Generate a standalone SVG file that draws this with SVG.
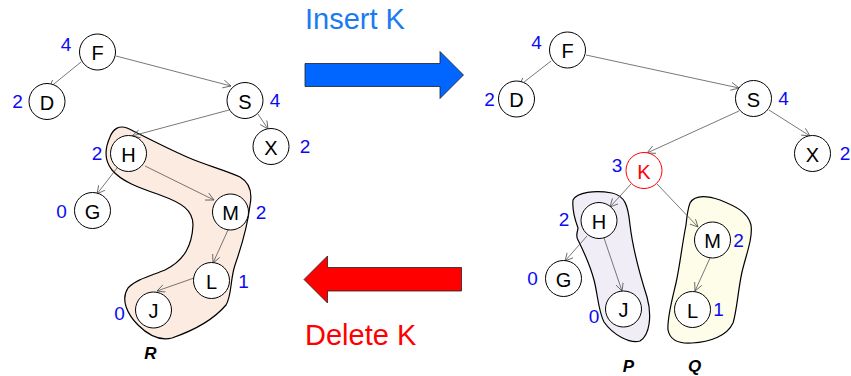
<svg xmlns="http://www.w3.org/2000/svg" width="851" height="376" viewBox="0 0 851 376">
<style>
.n circle{fill:#fff;stroke:#000;stroke-width:1}
.n text{font-family:"Liberation Sans",Arial,sans-serif;font-size:20px;fill:#000;text-anchor:middle;dominant-baseline:central}
.k circle{stroke:#f00}
.k text{fill:#f00}
.num{font-family:"Liberation Sans",Arial,sans-serif;font-size:19px;fill:#0a0af5;text-anchor:middle;dominant-baseline:central}
.e line{stroke:#555;stroke-width:0.8;marker-end:url(#ah)}
.blob{stroke:#000;stroke-width:1.2}
.lbl{font-family:"Liberation Sans",Arial,sans-serif;font-size:17px;font-weight:bold;font-style:italic;text-anchor:middle}
.big{font-family:"Liberation Sans",Arial,sans-serif;font-size:29px}
</style>
<defs>
<marker id="ah" markerUnits="userSpaceOnUse" markerWidth="10" markerHeight="10" refX="8" refY="4" orient="auto">
<path d="M0,0 L8,4 L0,8" fill="none" stroke="#555" stroke-width="0.8"/>
</marker>
</defs>
<rect width="851" height="376" fill="#fff"/>

<g id="blobs">
<path id="blob-R" class="blob" fill="#fbebe0" d="M110,137 C113,129 119,125 127,128 C140,134 160,145 187,157 C205,165 225,170 240,177 C252,184 252,195 250,205 C248,222 242,245 235,265 C230,280 232,295 226,305 C215,318 195,330 172,338 C160,341 148,335 138,325 C128,315 120,300 128,288 C135,280 150,276 165,270 C185,260 192,245 193,225 C193,210 182,203 160,195 C140,188 122,182 112,170 C104,160 105,148 110,137 Z"/>
<path id="blob-P" class="blob" fill="#f1edf6" d="M573,200 C577,192 595,190 612,193 C625,196 628,205 630,225 C633,250 640,275 647,297 C652,315 650,335 640,341 C630,344 613,335 604,322 C598,310 598,295 594,280 C590,265 583,250 578,240 C575,235 578,231 578,228 C575,220 572,210 573,200 Z"/>
<path id="blob-Q" class="blob" fill="#fdfde9" d="M690,203 C694,196 705,195 720,200 C735,206 748,212 751,225 C753,238 746,255 742,272 C738,290 737,310 733,323 C727,336 710,342 692,343 C678,344 670,340 668,330 C667,318 672,300 676,283 C680,265 682,245 686,225 C687,215 688,208 690,203 Z"/>
</g>

<g id="connectors" class="e">
<line x1="81" y1="62" x2="49" y2="88"/>
<line x1="116" y1="56" x2="231" y2="86"/>
<line x1="229" y1="110" x2="132" y2="136"/>
<line x1="258" y1="114" x2="268" y2="129"/>
<line x1="117" y1="168" x2="97" y2="194"/>
<line x1="145" y1="166" x2="214" y2="200"/>
<line x1="228" y1="230" x2="213" y2="263"/>
<line x1="194" y1="278" x2="157" y2="291"/>

<line x1="551" y1="61" x2="519" y2="86"/>
<line x1="586" y1="55" x2="739" y2="88"/>
<line x1="739" y1="111" x2="647" y2="153"/>
<line x1="769" y1="110" x2="810" y2="136"/>
<line x1="631" y1="184" x2="610" y2="207"/>
<line x1="657" y1="184" x2="698" y2="227"/>
<line x1="587" y1="236" x2="565" y2="261"/>
<line x1="604" y1="238" x2="622" y2="291"/>
<line x1="710" y1="258" x2="695" y2="291"/>
</g>

<g id="L-F" class="n"><circle cx="97.5" cy="52" r="18"/><text x="97.5" y="53">F</text></g>
<g id="L-D" class="n"><circle cx="47" cy="101.5" r="18"/><text x="47" y="102.5">D</text></g>
<g id="L-S" class="n"><circle cx="245" cy="100.5" r="18"/><text x="245" y="101.5">S</text></g>
<g id="L-X" class="n"><circle cx="271" cy="146.5" r="18"/><text x="271" y="147.5">X</text></g>
<g id="L-H" class="n"><circle cx="128.5" cy="153.5" r="18"/><text x="128.5" y="154.5">H</text></g>
<g id="L-G" class="n"><circle cx="92.5" cy="210.5" r="18"/><text x="92.5" y="211.5">G</text></g>
<g id="L-M" class="n"><circle cx="230.5" cy="212" r="18"/><text x="230.5" y="213">M</text></g>
<g id="L-L" class="n"><circle cx="211.5" cy="280.5" r="18"/><text x="211.5" y="281.5">L</text></g>
<g id="L-J" class="n"><circle cx="153.5" cy="310" r="18"/><text x="153.5" y="311">J</text></g>

<g id="L-nums">
<text class="num" x="66" y="44">4</text>
<text class="num" x="17.5" y="101">2</text>
<text class="num" x="275" y="100">4</text>
<text class="num" x="305" y="146">2</text>
<text class="num" x="97" y="153">2</text>
<text class="num" x="61.5" y="211">0</text>
<text class="num" x="261" y="212">2</text>
<text class="num" x="243.5" y="281">1</text>
<text class="num" x="119.5" y="313">0</text>
</g>
<text class="lbl" x="150.5" y="359">R</text>

<g id="insert-arrow">
<path d="M305,63.5 L440,63.5 L440,51.5 L463.5,75 L440,98.5 L440,86.5 L305,86.5 Z" fill="#0066ff" stroke="#222" stroke-width="0.8"/>
<text class="big" x="305" y="29" fill="#1a7af0">Insert K</text>
</g>
<g id="delete-arrow">
<path d="M461.5,267.5 L327.5,267.5 L327.5,256 L304,279.5 L327.5,303 L327.5,291 L461.5,291 Z" fill="#ff0000" stroke="#222" stroke-width="0.8"/>
<text class="big" x="305" y="345" fill="#ff0000">Delete K</text>
</g>

<g id="R-F" class="n"><circle cx="567.5" cy="50" r="18"/><text x="567.5" y="51">F</text></g>
<g id="R-D" class="n"><circle cx="516.5" cy="99" r="18"/><text x="516.5" y="100">D</text></g>
<g id="R-S" class="n"><circle cx="753.5" cy="98.5" r="18"/><text x="753.5" y="99.5">S</text></g>
<g id="R-X" class="n"><circle cx="812.5" cy="153.5" r="18"/><text x="812.5" y="154.5">X</text></g>
<g id="R-K" class="n k"><circle cx="644" cy="170.5" r="18"/><text x="644" y="171.5">K</text></g>
<g id="R-H" class="n"><circle cx="599" cy="220.5" r="18"/><text x="599" y="221.5">H</text></g>
<g id="R-G" class="n"><circle cx="563.5" cy="278.5" r="18"/><text x="563.5" y="279.5">G</text></g>
<g id="R-J" class="n"><circle cx="623.5" cy="309" r="18"/><text x="623.5" y="310">J</text></g>
<g id="R-M" class="n"><circle cx="712.5" cy="240" r="18"/><text x="712.5" y="241">M</text></g>
<g id="R-L" class="n"><circle cx="692.5" cy="309.5" r="18"/><text x="692.5" y="310.5">L</text></g>

<g id="R-nums">
<text class="num" x="536.5" y="42">4</text>
<text class="num" x="489.5" y="99">2</text>
<text class="num" x="783.5" y="98">4</text>
<text class="num" x="845" y="153">2</text>
<text class="num" x="617" y="165">3</text>
<text class="num" x="564" y="219">2</text>
<text class="num" x="532.5" y="278">0</text>
<text class="num" x="594" y="316">0</text>
<text class="num" x="738.5" y="240">2</text>
<text class="num" x="718.5" y="309">1</text>
</g>
<text class="lbl" x="628.5" y="372">P</text>
<text class="lbl" x="694.5" y="372">Q</text>
</svg>
